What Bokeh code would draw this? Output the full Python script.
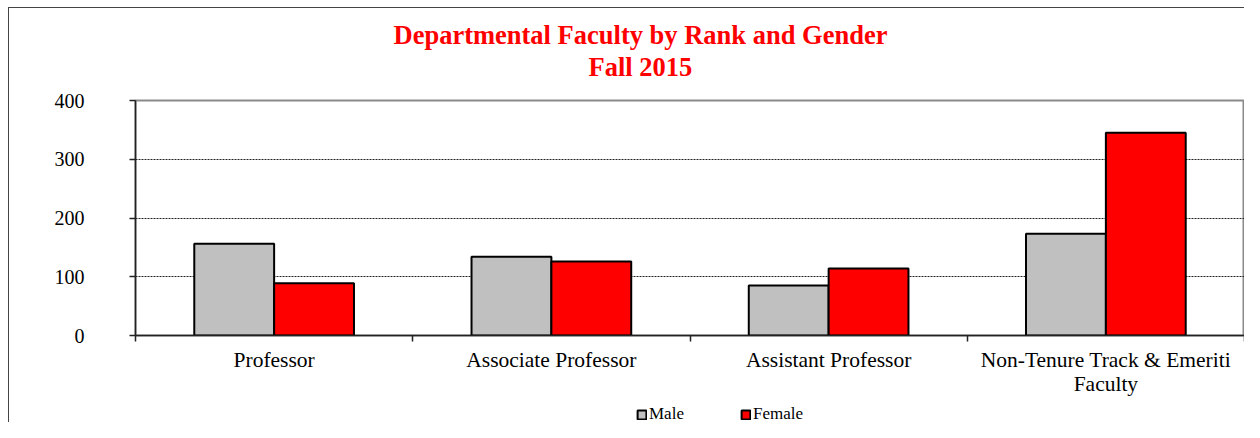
from bokeh.plotting import figure
from bokeh.layouts import column
from bokeh.models import (ColumnDataSource, Range1d, LinearAxis, FixedTicker, Title,
                          Legend, LegendItem, Grid)
from bokeh.transform import dodge
from bokeh.embed import file_html
from bokeh.resources import INLINE

categories = ["Professor", "Associate Professor", "Assistant Professor",
              "Non-Tenure Track & Emeriti\nFaculty"]
male = [156, 134, 85, 173]
female = [89, 126, 114, 345]
y_ticks = [0, 100, 200, 300, 400]
series_names = ["Male", "Female"]
series_colors = ["#C0C0C0", "#FF0000"]

FONT = "Liberation Serif"
BAR_W = 0.288
BORDER_BG = ("linear-gradient(#444,#444) 8px 7px / 1px 100% no-repeat, "
             "linear-gradient(#444,#444) 8px 7px / 100% 1px no-repeat, white")
LEFT_BG = "linear-gradient(#444,#444) 8px 0px / 1px 100% no-repeat, white"

centers = [i + 0.5 for i in range(len(categories))]
src = ColumnDataSource(data=dict(x=centers, male=male, female=female))

p = figure(width=1244, height=400, output_backend="svg", toolbar_location=None,
           x_range=Range1d(0, len(categories)), y_range=Range1d(0, 400),
           x_axis_type=None, y_axis_type=None, title=None,
           min_border_left=135, min_border_right=0, min_border_top=100,
           min_border_bottom=65)
p.styles = {"background": BORDER_BG}
p.background_fill_color = "white"
p.border_fill_color = None
p.outline_line_color = "#8a8a8a"
p.outline_line_width = 2

# title panels, stacked outward from the frame: spacer, second line, first line
p.add_layout(Title(text=" ", text_font_size="1px", standoff=16), "above")
p.add_layout(Title(text="Fall 2015", align="left", offset=453, standoff=0,
                   text_font=FONT, text_font_size="26.5px", text_font_style="bold",
                   text_color="#FF0000"), "above")
p.add_layout(Title(text="Departmental Faculty by Rank and Gender", align="left",
                   offset=258, standoff=0,
                   text_font=FONT, text_font_size="26.5px", text_font_style="bold",
                   text_color="#FF0000"), "above")

# y axis
yax = LinearAxis(ticker=FixedTicker(ticks=y_ticks, minor_ticks=[]))
yax.axis_line_color = "#222"
yax.axis_line_width = 1.5
yax.major_tick_line_color = "#222"
yax.major_tick_line_width = 1.5
yax.major_tick_out = 6
yax.major_tick_in = 0
yax.minor_tick_line_color = None
yax.major_label_standoff = 45
yax.major_label_text_font = FONT
yax.major_label_text_font_size = "20px"
yax.major_label_text_color = "black"
p.add_layout(yax, "left")

# x axis: labels at centres, ticks at category boundaries
xax = LinearAxis(ticker=FixedTicker(ticks=centers,
                                    minor_ticks=list(range(len(categories) + 1))))
xax.major_label_overrides = {c: lab for c, lab in zip(centers, categories)}
xax.axis_line_color = "#222"
xax.axis_line_width = 1.5
xax.major_tick_line_color = None
xax.minor_tick_line_color = "#222"
xax.minor_tick_line_width = 1.5
xax.minor_tick_out = 6
xax.minor_tick_in = 0
xax.major_label_standoff = 6
xax.major_label_text_font = FONT
xax.major_label_text_font_size = "21.5px"
xax.major_label_text_color = "black"
xax.major_label_text_line_height = 1.0
p.add_layout(xax, "below")

# grid
g = Grid(dimension=1, ticker=FixedTicker(ticks=y_ticks[1:-1]))
g.grid_line_color = "#222"
g.grid_line_dash = "2 1"
g.grid_line_width = 1
p.add_layout(g)

p.vbar(x=dodge("x", -BAR_W / 2, range=p.x_range), top="male", width=BAR_W,
       source=src, fill_color=series_colors[0], line_color="black", line_width=2)
p.vbar(x=dodge("x", BAR_W / 2, range=p.x_range), top="female", width=BAR_W,
       source=src, fill_color=series_colors[1], line_color="black", line_width=2)

# legend strip below the chart (its frame is aligned with the chart frame)
lf = figure(width=1244, height=22, output_backend="svg", toolbar_location=None,
            x_range=Range1d(0, 1), y_range=Range1d(0, 1),
            x_axis_type=None, y_axis_type=None, title=None, min_border=0)
lf.styles = {"background": LEFT_BG}
lf.outline_line_color = None
lf.background_fill_color = None
lf.border_fill_color = None
lf.xgrid.visible = False
lf.ygrid.visible = False
items = []
for name, col in zip(series_names, series_colors):
    # key swatch only: the renderer itself is hidden
    r = lf.vbar(x=[-5], top=[-1], bottom=-2, width=0.1, fill_color=col,
                line_color="black", line_width=2)
    r.visible = False
    items.append(LegendItem(label=name, renderers=[r]))
legend = Legend(items=items, orientation="horizontal", location=(501, -2))
legend.glyph_width = 11
legend.glyph_height = 11
legend.label_standoff = 2
legend.spacing = 56
legend.padding = 0
legend.margin = 0
legend.border_line_color = None
legend.background_fill_alpha = 0
legend.label_text_font = FONT
legend.label_text_font_size = "17px"
legend.label_text_color = "black"
lf.add_layout(legend, "center")

layout = column(p, lf, spacing=0)
open("out.html", "w").write(file_html(layout, INLINE))
